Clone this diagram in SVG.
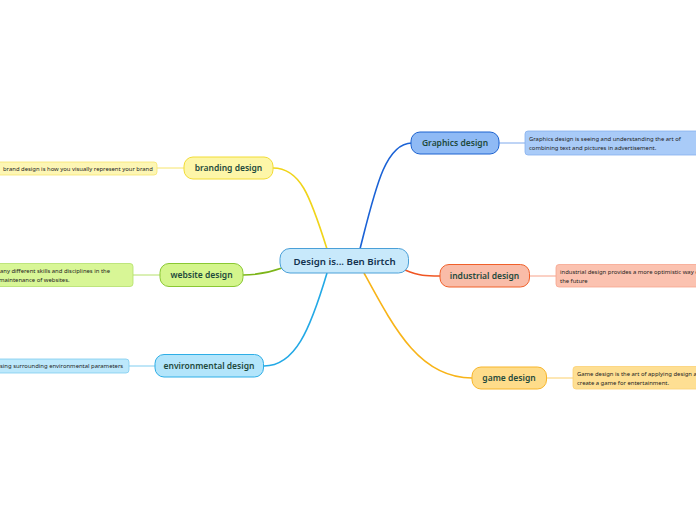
<svg xmlns="http://www.w3.org/2000/svg" width="696" height="520" viewBox="0 0 696 520">
<style>
.node text{font-family:"Noto Sans","Open Sans",sans-serif;font-weight:600;font-size:8.5px;fill:#1e4a3c;text-anchor:middle}
.note text{font-family:"Noto Sans","Open Sans",sans-serif;font-size:5.9px;fill:#222}
.conn path{fill:none;stroke-width:1.6}
.sub line{stroke-width:1}
</style>
<rect width="696" height="520" fill="#ffffff"/>
<g id="connectors" class="conn">
<path d="M327,249 C310,195 300,168 273,168" stroke="#f0d41a"/>
<path d="M360,249 C375,190 385,143 412,143" stroke="#1a62d6"/>
<path d="M282,268 C265,274 255,275 243,275" stroke="#7cb518"/>
<path d="M405,270 C420,276 425,276 440,276" stroke="#f05522"/>
<path d="M327,273 C310,330 295,366 264,366" stroke="#23a9e6"/>
<path d="M364,273 C395,330 420,378 472,378" stroke="#f8b418"/>
</g>
<g id="subconnectors" class="sub">
<line x1="157" y1="168" x2="184" y2="168" stroke="#f6e46a"/>
<line x1="133" y1="275" x2="160" y2="275" stroke="#b5e06a"/>
<line x1="129" y1="366" x2="155" y2="366" stroke="#7fcdf0"/>
<line x1="499" y1="143" x2="525" y2="143" stroke="#7ea9ec"/>
<line x1="530" y1="276" x2="556" y2="276" stroke="#f7a28a"/>
<line x1="547" y1="378" x2="573" y2="378" stroke="#fbcf6a"/>
</g>
<g id="central" class="node">
<rect x="280" y="248.5" width="128.5" height="24.5" rx="10" fill="#c8e9fb" stroke="#4aa0d8"/>
<text x="344.5" y="265" style="font-size:9.7px;fill:#13324f">Design is... Ben Birtch</text>
</g>
<g id="graphics" class="node">
<rect x="411" y="132" width="88" height="22" rx="9" fill="#8fbaf5" stroke="#1d63d0"/>
<text x="455" y="146">Graphics design</text>
</g>
<g id="graphics-note" class="note">
<rect x="525" y="131" width="180" height="24" rx="3" fill="#a9cbf8" stroke="#86b0ee" stroke-width="0.8"/>
<text x="529" y="141">Graphics design is seeing and understanding the art of</text>
<text x="529" y="150">combining text and pictures in advertisement.</text>
</g>
<g id="industrial" class="node">
<rect x="440" y="264.5" width="89.5" height="22.5" rx="9" fill="#f9bca8" stroke="#f0602a"/>
<text x="484.5" y="278.5">industrial design</text>
</g>
<g id="industrial-note" class="note">
<rect x="556" y="264.5" width="150" height="22.5" rx="3" fill="#fbc2b0" stroke="#f6a58e" stroke-width="0.8"/>
<text x="560" y="273.5">industrial design provides a more optimistic way of</text>
<text x="560" y="282.5">the future</text>
</g>
<g id="game" class="node">
<rect x="472" y="367" width="74.5" height="22" rx="9" fill="#fedc8a" stroke="#f7b52a"/>
<text x="509" y="380.5">game design</text>
</g>
<g id="game-note" class="note">
<rect x="573" y="366.5" width="130" height="22.5" rx="3" fill="#fedf93" stroke="#fbd174" stroke-width="0.8"/>
<text x="577" y="375.5">Game design is the art of applying design a</text>
<text x="577" y="384.5">create a game for entertainment.</text>
</g>
<g id="branding" class="node">
<rect x="184" y="157" width="89" height="22" rx="9" fill="#fdf6a8" stroke="#f2dc35"/>
<text x="228.5" y="171">branding design</text>
</g>
<g id="branding-note" class="note">
<rect x="-3" y="162" width="160" height="13" rx="3" fill="#fdf6b4" stroke="#f6e66e" stroke-width="0.8"/>
<text x="3" y="170.5">brand design is how you visually represent your brand</text>
</g>
<g id="website" class="node">
<rect x="160" y="263.5" width="83" height="23" rx="9" fill="#d4f58c" stroke="#8ac832"/>
<text x="201.5" y="278">website design</text>
</g>
<g id="website-note" class="note">
<rect x="-5" y="263.5" width="138" height="23" rx="3" fill="#d8f696" stroke="#b2e06a" stroke-width="0.8"/>
<text x="0" y="272.5">any different skills and disciplines in the</text>
<text x="-1" y="281.5">maintenance of websites.</text>
</g>
<g id="environmental" class="node">
<rect x="155" y="354.5" width="108.5" height="22.5" rx="9" fill="#b3e5fb" stroke="#2eaee6"/>
<text x="209" y="369">environmental design</text>
</g>
<g id="environmental-note" class="note">
<rect x="-5" y="359" width="134" height="14" rx="3" fill="#bde8fb" stroke="#7fcdf0" stroke-width="0.8"/>
<text x="0" y="368">sing surrounding environmental parameters</text>
</g>
</svg>
